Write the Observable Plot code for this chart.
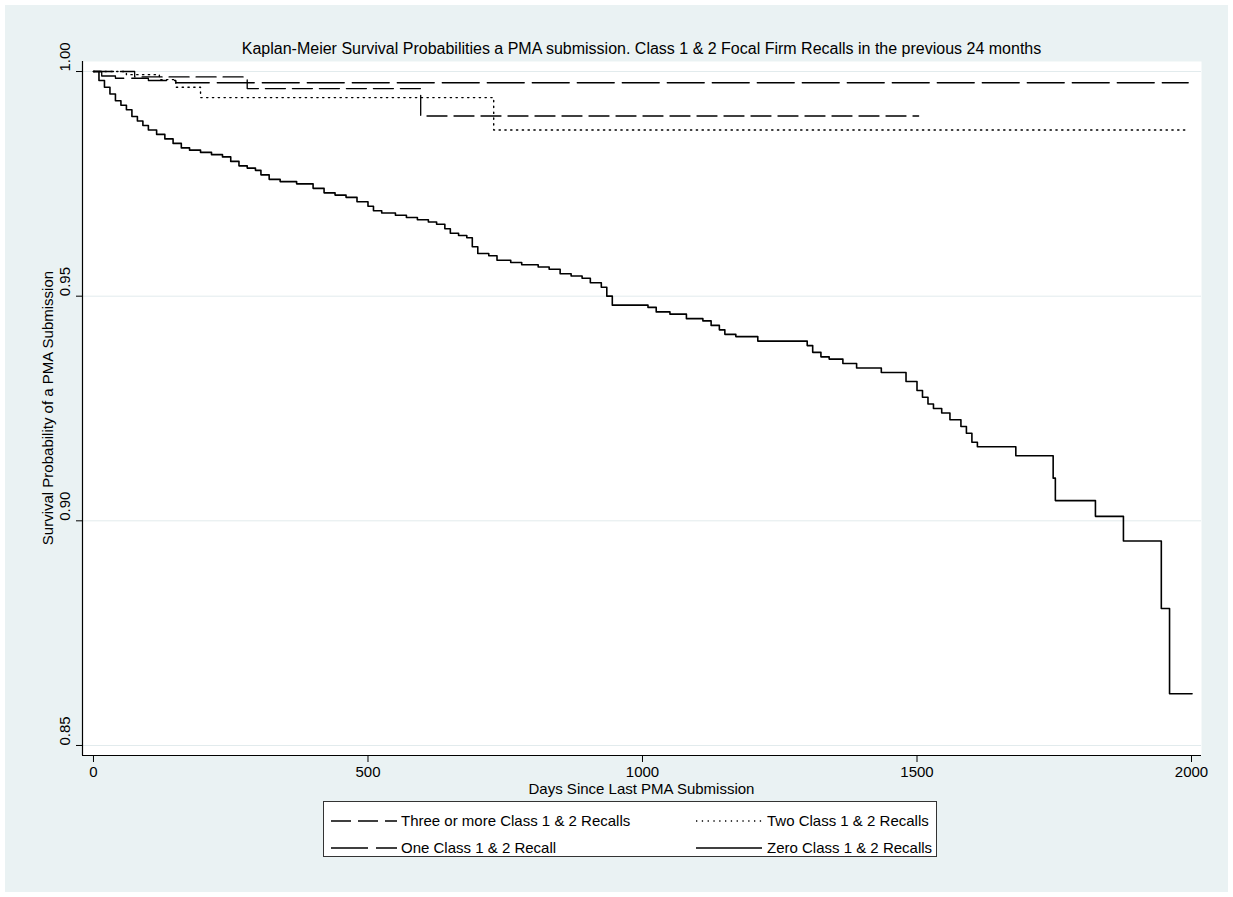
<!DOCTYPE html>
<html><head><meta charset="utf-8">
<script src="https://cdn.jsdelivr.net/npm/d3@7"></script>
<script src="https://cdn.jsdelivr.net/npm/@observablehq/plot@0.6"></script>
<style>
body{margin:0;background:#fff;font-family:Arial,"Liberation Sans",sans-serif;}
#page{position:relative;width:1233px;height:897px;background:#fff;overflow:hidden}
#bg{position:absolute;left:5px;top:5px;width:1223px;height:887px;background:#eaf2f3}
#chart{position:absolute;left:0;top:0}
.t{position:absolute;color:#000;font-size:15px;white-space:nowrap;line-height:1}
#title{left:82px;width:1119px;top:41px;text-align:center;font-size:16px}
#xtitle{left:82px;width:1119px;top:781px;text-align:center}
#ytitle{left:47px;top:408px;transform:translate(-50%,-50%) rotate(-90deg)}
#legend{position:absolute;left:323px;top:801px;width:614px;height:56px;background:#fff;border:1px solid #333;box-sizing:border-box}
#legend .item{position:absolute;font-size:15px;line-height:1;white-space:nowrap}
#legend svg{position:absolute}
</style></head>
<body><div id="page"><div id="bg"></div><div id="chart"></div>
<div class="t" id="title">Kaplan-Meier Survival Probabilities a PMA submission. Class 1 &amp; 2 Focal Firm Recalls in the previous 24 months</div>
<div class="t" id="xtitle">Days Since Last PMA Submission</div>
<div class="t" id="ytitle">Survival Probability of a PMA Submission</div>
<div id="legend"></div>
</div>
<script>
// ---- data ----
const seriesNames = ["Three or more Class 1 & 2 Recalls","Two Class 1 & 2 Recalls","One Class 1 & 2 Recall","Zero Class 1 & 2 Recalls"];
const xTicks = [0,500,1000,1500,2000];
const yTicks = [0.85,0.90,0.95,1.00];

const threeDays = [0, 75, 280, 596, 1503];
const threeSurv = [1.0, 0.9988, 0.9962, 0.9901, 0.9901];

const twoDays = [0, 60, 120, 150, 195, 729, 1994];
const twoSurv = [1.0, 0.9993, 0.9982, 0.9965, 0.9942, 0.987, 0.987];

const oneDays = [0, 15, 40, 100, 150, 1994];
const oneSurv = [1.0, 0.999, 0.9985, 0.998, 0.9975, 0.9975];

const zeroDays = [0,10,20,30,40,50,60,70,80,90,100,115,130,145,160,175,195,215,235,250,265,280,295,305,320,340,370,400,420,440,460,480,500,510,525,550,570,590,610,625,640,650,665,680,690,700,720,735,760,780,810,830,850,870,890,905,925,935,945,1010,1025,1050,1080,1110,1125,1140,1150,1170,1210,1300,1310,1325,1340,1365,1390,1435,1480,1500,1510,1520,1530,1545,1560,1580,1590,1600,1610,1680,1748,1752,1825,1876,1945,1960,2001];
const zeroSurv = [1.000,0.998,0.9965,0.995,0.9935,0.9925,0.9915,0.990,0.989,0.988,0.987,0.986,0.985,0.984,0.983,0.9825,0.982,0.9815,0.981,0.980,0.979,0.9785,0.978,0.977,0.976,0.9755,0.975,0.974,0.973,0.9725,0.972,0.971,0.970,0.969,0.9685,0.968,0.9675,0.967,0.9665,0.966,0.965,0.964,0.9635,0.963,0.961,0.9595,0.959,0.958,0.9575,0.957,0.9565,0.956,0.955,0.9545,0.954,0.953,0.952,0.950,0.948,0.9475,0.9465,0.946,0.945,0.9445,0.9435,0.9425,0.9415,0.941,0.940,0.939,0.9375,0.9365,0.936,0.935,0.934,0.933,0.931,0.929,0.9275,0.926,0.925,0.924,0.9225,0.921,0.9195,0.9175,0.9165,0.9145,0.9095,0.9045,0.901,0.8955,0.8805,0.8615,0.8615];

const styles = {
  "Three or more Class 1 & 2 Recalls": {dash:"20,7", width:1.3},
  "Two Class 1 & 2 Recalls": {dash:"1.3,4.5", width:1.4},
  "One Class 1 & 2 Recall": {dash:"37,8", width:1.3},
  "Zero Class 1 & 2 Recalls": {dash:null, width:1.6}
};

const toRows = (days, surv) => days.map((d,i)=>({day:d, surv:surv[i]}));
const seriesData = {
  "Three or more Class 1 & 2 Recalls": toRows(threeDays, threeSurv),
  "Two Class 1 & 2 Recalls": toRows(twoDays, twoSurv),
  "One Class 1 & 2 Recall": toRows(oneDays, oneSurv),
  "Zero Class 1 & 2 Recalls": toRows(zeroDays, zeroSurv)
};

const xMin = -20, xMax = 2018.2, yMin = 0.84777, yMax = 1.00223;

const lineMarks = seriesNames.map(n => Plot.line(seriesData[n], {
  x:"day", y:"surv", curve:"step-after", stroke:"#000",
  strokeWidth: styles[n].width, strokeDasharray: styles[n].dash || undefined
}));

const chart = Plot.plot({
  width:1233, height:800,
  marginLeft:82, marginRight:32, marginTop:61, marginBottom:45,
  x:{domain:[xMin,xMax]}, y:{domain:[yMin,yMax]},
  style:{background:"transparent", fontFamily:"Arial, 'Liberation Sans', sans-serif", fontSize:"15px", color:"#000", overflow:"visible"},
  marks:[
    Plot.frame({fill:"white", stroke:null}),
    Plot.gridY(yTicks, {stroke:"#e2ebed", strokeOpacity:1, strokeWidth:1}),
    Plot.ruleX([xMin], {stroke:"#000", strokeWidth:1.2}),
    Plot.ruleY([yMin], {stroke:"#000", strokeWidth:1.2}),
    Plot.axisX(xTicks, {tickSize:7, tickPadding:4, fontSize:15, label:null, stroke:"#000", tickFormat:d=>String(d)}),
    Plot.axisY(yTicks, {tickSize:6, tickFormat:()=>"", label:null, stroke:"#000"}),
    Plot.text(yTicks, {y:d=>d, frameAnchor:"left", text:d=>d.toFixed(2), rotate:-90, dx:-17, fontSize:15, fill:"#000"}),
    ...lineMarks
  ]
});
document.getElementById("chart").appendChild(chart);

// legend
const legend = document.getElementById("legend");
const pos = [
  {name:"Three or more Class 1 & 2 Recalls", sx:7, tx:77, y:19},
  {name:"Two Class 1 & 2 Recalls", sx:372, tx:443, y:19},
  {name:"One Class 1 & 2 Recall", sx:7, tx:77, y:46},
  {name:"Zero Class 1 & 2 Recalls", sx:372, tx:443, y:46}
];
for (const p of pos) {
  const s = d3.create("svg").attr("width",66).attr("height",6)
    .style("left", p.sx+"px").style("top",(p.y-3)+"px");
  s.append("line").attr("x1",0).attr("x2",66).attr("y1",3).attr("y2",3)
    .attr("stroke","#000").attr("stroke-width",styles[p.name].width)
    .attr("stroke-dasharray", styles[p.name].dash);
  legend.appendChild(s.node());
  const t = document.createElement("div");
  t.className="item"; t.textContent=p.name;
  t.style.left=p.tx+"px"; t.style.top=(p.y-8)+"px";
  legend.appendChild(t);
}
</script></body></html>
